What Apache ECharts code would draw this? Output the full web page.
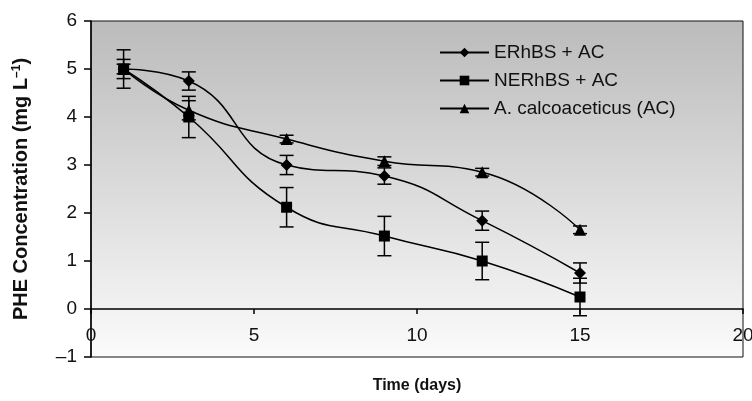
<!DOCTYPE html>
<html>
<head>
<meta charset="utf-8">
<script src="https://cdn.jsdelivr.net/npm/echarts@6/dist/echarts.min.js"></script>
<style>html,body{margin:0;padding:0;background:#fff;}#c{width:752px;height:401px;}</style>
</head>
<body>
<div id="c"></div>
<script>
var days = [1, 3, 6, 9, 12, 15];
var seriesNames = ['ERhBS + AC', 'NERhBS + AC', 'A. calcoaceticus (AC)'];
var erhbs = [5.0, 4.75, 3.0, 2.77, 1.84, 0.75];
var erhbsErr = [0.2, 0.19, 0.2, 0.17, 0.2, 0.21];
var nerhbs = [5.0, 4.0, 2.12, 1.52, 1.0, 0.25];
var nerhbsErr = [0.4, 0.43, 0.41, 0.41, 0.39, 0.39];
var ac = [5.0, 4.14, 3.54, 3.08, 2.85, 1.65];
var acErr = [0.1, 0.2, 0.08, 0.09, 0.08, 0.08];
var yTickValues = [-1, 0, 1, 2, 3, 4, 5, 6];
var yTickLabels = ['\u20131', '0', '1', '2', '3', '4', '5', '6'];
var xTickLabels = ['0', '5', '10', '15', '20'];

function pairs(vals) { return days.map(function (d, i) { return [d, vals[i]]; }); }
function errData(vals, errs) { return days.map(function (d, i) { return [d, vals[i] - errs[i], vals[i] + errs[i]]; }); }

function errSeries(vals, errs) {
  return {
    type: 'custom',
    data: errData(vals, errs),
    z: 1,
    silent: true,
    renderItem: function (params, api) {
      var x = api.value(0);
      var lo = api.coord([x, api.value(1)]);
      var hi = api.coord([x, api.value(2)]);
      var w = 7;
      var st = { stroke: '#000', lineWidth: 1.5 };
      return {
        type: 'group',
        children: [
          { type: 'line', shape: { x1: lo[0], y1: lo[1], x2: hi[0], y2: hi[1] }, style: st },
          { type: 'line', shape: { x1: lo[0] - w, y1: lo[1], x2: lo[0] + w, y2: lo[1] }, style: st },
          { type: 'line', shape: { x1: hi[0] - w, y1: hi[1], x2: hi[0] + w, y2: hi[1] }, style: st }
        ]
      };
    }
  };
}

function lineSeries(name, vals, symbol, size) {
  return {
    name: name,
    type: 'line',
    data: pairs(vals),
    smooth: 0.5,
    symbol: symbol,
    symbolSize: size,
    z: 3,
    lineStyle: { color: '#000', width: 1.5 },
    itemStyle: { color: '#000' }
  };
}

var chart = echarts.init(document.getElementById('c'), null, { renderer: 'canvas' });
chart.setOption({
  animation: false,
  backgroundColor: '#fff',
  textStyle: { fontFamily: 'Liberation Sans, Arial, sans-serif' },
  grid: {
    left: 91, top: 21, width: 652, height: 336,
    outerBoundsMode: 'none',
    containLabel: false,
    show: true,
    borderColor: '#111', borderWidth: 1,
    backgroundColor: {
      type: 'linear', x: 0, y: 0, x2: 0, y2: 1,
      colorStops: [{ offset: 0, color: '#bbbbbb' }, { offset: 1, color: '#fbfbfb' }]
    }
  },
  legend: {
    orient: 'vertical',
    left: 439, top: 43, padding: 0,
    itemWidth: 49, itemHeight: 12, itemGap: 9,
    textStyle: { fontSize: 19, color: '#111', fontFamily: 'Liberation Sans, Arial, sans-serif' },
    data: seriesNames
  },
  xAxis: {
    type: 'value', min: 0, max: 20, interval: 5,
    name: 'Time (days)', nameLocation: 'middle', nameGap: 21,
    nameTextStyle: { fontSize: 16, fontWeight: 'bold', color: '#111' },
    axisLine: { onZero: true, lineStyle: { color: '#000', width: 1.5 } },
    axisTick: { show: true, inside: false, length: 5, lineStyle: { color: '#000', width: 1.5 } },
    axisLabel: {
      fontSize: 19, color: '#111', margin: -31,
      formatter: function (v) { return xTickLabels[Math.round(v / 5)]; }
    },
    splitLine: { show: false }
  },
  yAxis: {
    type: 'value', min: -1, max: 6, interval: 1,
    name: 'PHE Concentration (mg L{sup|\u20131})', nameLocation: 'middle', nameGap: 59,
    nameTextStyle: {
      fontSize: 20, fontWeight: 'bold', color: '#111',
      rich: { sup: { fontSize: 12, fontWeight: 'bold', verticalAlign: 'top', padding: [0, 0, 9, 0] } }
    },
    axisLine: { show: true, lineStyle: { color: '#000', width: 1.5 } },
    axisTick: { show: true, length: 7, lineStyle: { color: '#000', width: 1.5 } },
    axisLabel: {
      fontSize: 19, color: '#111', margin: 14,
      formatter: function (v) { return yTickLabels[yTickValues.indexOf(v)]; }
    },
    splitLine: { show: false }
  },
  series: [
    errSeries(erhbs, erhbsErr),
    errSeries(nerhbs, nerhbsErr),
    errSeries(ac, acErr),
    lineSeries(seriesNames[0], erhbs, 'diamond', 12),
    lineSeries(seriesNames[1], nerhbs, 'rect', 11),
    lineSeries(seriesNames[2], ac, 'triangle', 12)
  ]
});
</script>
</body>
</html>
